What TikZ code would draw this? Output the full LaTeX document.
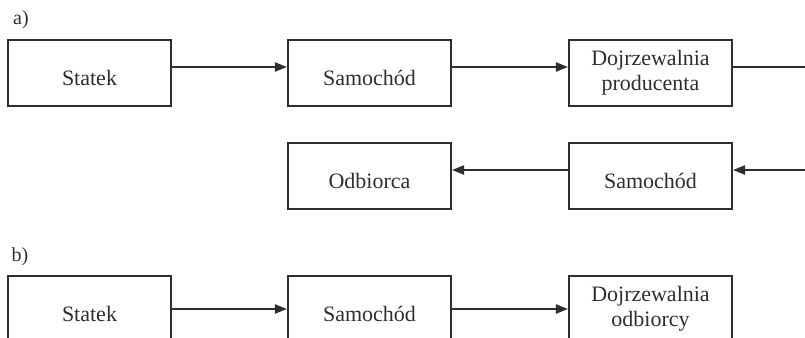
\documentclass[tikz,border=0pt]{standalone}
\usepackage{fontspec}
\setmainfont{Liberation Serif}
\usetikzlibrary{arrows.meta}
\definecolor{ink}{HTML}{2E2E2E}
\begin{document}
\begin{tikzpicture}[x=0.5pt,y=-0.5pt,
  box/.style={draw=ink, line width=1.1pt, minimum width=81.5pt, minimum height=33pt,
    inner sep=0pt, text=ink, font=\fontsize{11}{12.5}\selectfont, align=center},
  oneline/.style={text height=12pt, text depth=0pt},
  flow/.style={draw=ink, line width=0.85pt, -{Triangle[length=6pt,width=4.6pt]}},
  plain/.style={draw=ink, line width=0.85pt},
  tag/.style={text=ink, font=\fontsize{10}{11}\selectfont, inner sep=0pt}]
\useasboundingbox (0,0) rectangle (805,338);
\clip (0,0) rectangle (805,338);

% a) producer-side ripening
\node[tag] (la) at (21,20) {a)};
\node[box, oneline] (a1) at (89.5,73) {Statek};
\node[box, oneline] (a2) at (369.5,73) {Samochód};
\node[box] (a3) at (650.5,73) {Dojrzewalnia\\producenta};
\node[box, oneline] (a5) at (650.5,176) {Samochód};
\node[box, oneline] (a6) at (369.5,176) {Odbiorca};
\coordinate (aout) at (805,67);
\coordinate (ain) at (805,170);

\draw[flow] ([yshift=3pt]a1.east) -- ([yshift=3pt]a2.west);
\draw[flow] ([yshift=3pt]a2.east) -- ([yshift=3pt]a3.west);
\draw[plain] ([yshift=3pt]a3.east) -- (aout);
\draw[flow] (ain) -- ([yshift=3pt]a5.east);
\draw[flow] ([yshift=3pt]a5.west) -- ([yshift=3pt]a6.east);

% b) receiver-side ripening
\node[tag] (lb) at (20,257) {b)};
\node[box, oneline] (b1) at (89.5,309) {Statek};
\node[box, oneline] (b2) at (369.5,309) {Samochód};
\node[box] (b3) at (650.5,309) {Dojrzewalnia\\odbiorcy};

\draw[flow] (b1.east) -- (b2.west);
\draw[flow] (b2.east) -- (b3.west);
\end{tikzpicture}
\end{document}
